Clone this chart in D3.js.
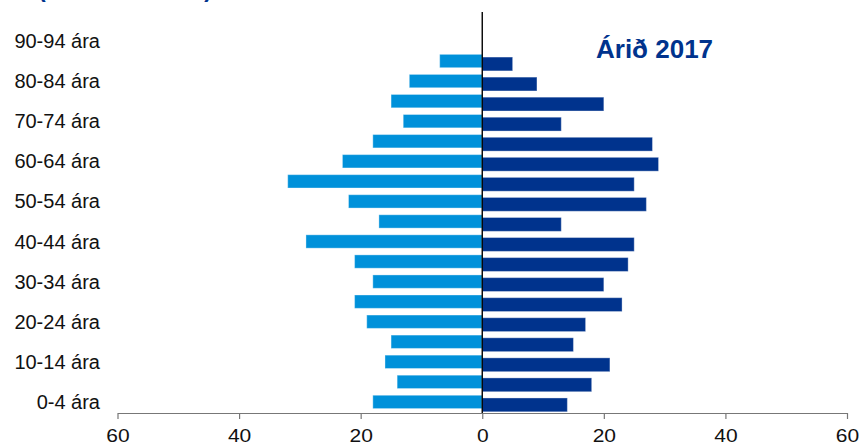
<!DOCTYPE html>
<html>
<head>
<meta charset="utf-8">
<script src="https://cdn.jsdelivr.net/npm/d3@7"></script>
<style>
  html, body { margin: 0; padding: 0; background: #fff; }
  svg { display: block; font-family: Arial, "Liberation Sans", sans-serif; }
</style>
</head>
<body>
<svg id="chart" width="860" height="447"></svg>
<script>
// Age groups, bottom to top
const ageGroups = ["0-4 ára","5-9 ára","10-14 ára","15-19 ára","20-24 ára","25-29 ára",
  "30-34 ára","35-39 ára","40-44 ára","45-49 ára","50-54 ára","55-59 ára","60-64 ára",
  "65-69 ára","70-74 ára","75-79 ára","80-84 ára","85-89 ára","90-94 ára"];
// Left side (light blue)
const karlar = [18,14,16,15,19,21,18,21,29,17,22,32,23,18,13,15,12,7,0];
// Right side (dark blue)
const konur  = [14,18,21,15,17,23,20,24,25,13,27,25,29,28,13,20,9,5,0];
const xTicks = [-60,-40,-20,0,20,40,60];
const title = "Árið 2017";
const subtitle = "(karlar – konur)";

const svg = d3.select("#chart");
const lightBlue = "#0091da";
const darkBlue = "#00338d";

const x = d3.scaleLinear().domain([-60, 60]).range([117.5, 847]);
const y = d3.scaleBand().domain(ageGroups.slice().reverse()).range([32, 413]).padding(0);
const bw = y.bandwidth();

// Left bars
svg.append("g").selectAll("rect").data(ageGroups).join("rect")
  .attr("x", (d, i) => x(-karlar[i]))
  .attr("width", (d, i) => x(0) - x(-karlar[i]))
  .attr("y", d => y(d) + bw * 0.115)
  .attr("height", bw * 0.665)
  .attr("fill", lightBlue)
  .attr("stroke", "rgba(255,255,255,0.35)")
  .attr("stroke-width", 1);

// Right bars
svg.append("g").selectAll("rect").data(ageGroups).join("rect")
  .attr("x", x(0))
  .attr("width", (d, i) => x(konur[i]) - x(0))
  .attr("y", d => y(d) + bw * 0.25)
  .attr("height", bw * 0.69)
  .attr("fill", darkBlue)
  .attr("stroke", "rgba(255,255,255,0.35)")
  .attr("stroke-width", 1);

// Horizontal value axis
const xAxis = d3.axisBottom(x).tickValues(xTicks).tickSize(6).tickSizeOuter(0)
  .tickFormat(d => Math.abs(d));
const gx = svg.append("g").attr("transform", "translate(0,413)").call(xAxis);
gx.select(".domain").attr("stroke", "#777").attr("stroke-width", 1.2);
gx.selectAll(".tick line").attr("stroke", "#777").attr("stroke-width", 1.2);
gx.selectAll(".tick text")
  .attr("y", 0).attr("dy", null)
  .attr("fill", "#111")
  .style("font-size", "17.5px")
  .attr("transform", "translate(0,28.7) scale(1.2,1)");

// Vertical zero line
svg.append("line")
  .attr("x1", x(0)).attr("x2", x(0))
  .attr("y1", 12).attr("y2", 413)
  .attr("stroke", "#000").attr("stroke-width", 1.4);

// Category labels (every other group)
svg.append("g").selectAll("text")
  .data(ageGroups.filter((d, i) => i % 2 === 0))
  .join("text")
  .attr("x", 100)
  .attr("y", d => y(d) + bw / 2 + 6)
  .attr("text-anchor", "end")
  .attr("fill", "#111")
  .style("font-size", "20px")
  .text(d => d);

// Title
svg.append("text")
  .attr("x", 596).attr("y", 57.5)
  .attr("fill", darkBlue)
  .style("font-size", "26px").style("font-weight", "bold")
  .text(title);

// Heading line running off the top edge
svg.append("text")
  .attr("x", 38).attr("y", -2.6)
  .attr("fill", darkBlue)
  .style("font-size", "23px").style("font-weight", "bold")
  .attr("textLength", 174)
  .text(subtitle);
</script>
</body>
</html>
